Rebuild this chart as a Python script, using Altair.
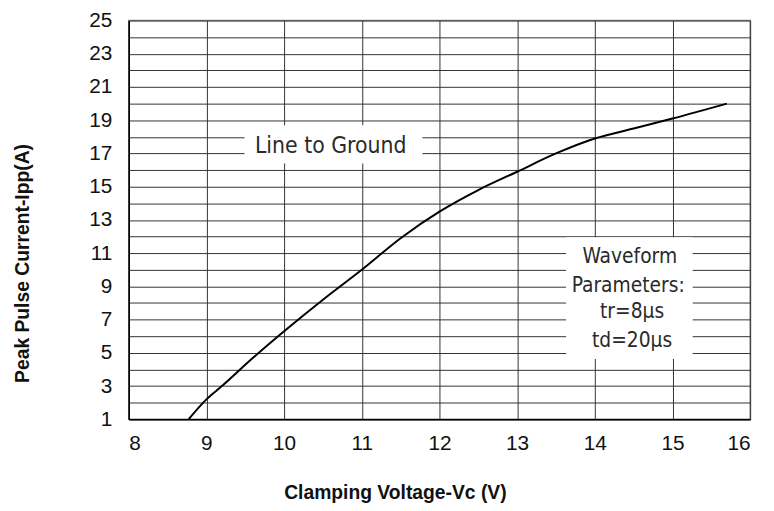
import altair as alt
import pandas as pd

# curve data
vc = [8.77, 9.0, 9.2, 9.6, 10.0, 10.5, 11.0, 11.5, 12.0, 12.5, 13.0, 13.5, 14.0, 14.5, 15.0, 15.7]
ipp = [1.0, 2.2, 3.0, 4.7, 6.3, 8.2, 10.0, 11.9, 13.5, 14.8, 15.9, 17.0, 17.9, 18.5, 19.1, 20.0]

x_ticks = [8, 9, 10, 11, 12, 13, 14, 15, 16]
y_ticks = list(range(1, 26))

# annotation boxes (data coordinates) and their texts
box_x1 = [9.49, 13.63]
box_x2 = [11.78, 15.26]
box_y1 = [16.4, 4.63]
box_y2 = [18.7, 11.95]

title_text = ["Line to Ground"]
title_x = [10.6]
title_y = [17.43]

wave_text = ["Waveform", "Parameters:", "tr=8\u00b5s", "td=20\u00b5s"]
wave_x = [14.45, 14.43, 14.48, 14.48]
wave_y = [10.78, 9.0, 7.43, 5.72]

curve = pd.DataFrame({"vc": vc, "ipp": ipp})
boxes = pd.DataFrame({"vc": box_x1, "x2": box_x2, "ipp": box_y1, "y2": box_y2})
ann1 = pd.DataFrame({"t": title_text, "vc": title_x, "ipp": title_y})
ann2 = pd.DataFrame({"t": wave_text, "vc": wave_x, "ipp": wave_y})

xs = alt.Scale(domain=[8, 16], nice=False, zero=False)
ys = alt.Scale(domain=[1, 25], nice=False, zero=False)

x_axis = alt.Axis(
    values=x_ticks, format="d", grid=True, ticks=False, domain=True, domainColor="#000000",
    labelFont="Liberation Sans", labelFontSize=21, labelColor="#111111", labelPadding=14,
    title="Clamping Voltage-Vc (V)", titleFont="Liberation Sans", titleFontSize=19.5,
    titleFontWeight="bold", titleColor="#111111", titleX=269, titleY=74,
    titleAlign="center", titleBaseline="middle", titleAnchor="start",
)
y_axis = alt.Axis(
    values=y_ticks, format="d", grid=True, ticks=False, domain=True, domainColor="#000000",
    labelExpr="datum.value % 2 == 1 ? datum.label : ''",
    labelFont="Liberation Sans", labelFontSize=21, labelColor="#111111", labelPadding=17,
    title="Peak Pulse Current-Ipp(A)", titleFont="Liberation Sans", titleFontSize=19.5,
    titleFontWeight="bold", titleColor="#111111", titleX=-107, titleY=245,
    titleAngle=-90, titleAlign="center", titleBaseline="middle", titleAnchor="start",
)

X = alt.X("vc:Q", scale=xs, axis=x_axis)
Y = alt.Y("ipp:Q", scale=ys, axis=y_axis)

line = alt.Chart(curve).mark_line(color="#000000", strokeWidth=2, interpolate="monotone").encode(
    x=X, y=Y,
)

rects = alt.Chart(boxes).mark_rect(fill="#ffffff").encode(
    x=X, x2="x2:Q", y=Y, y2="y2:Q",
)

text1 = alt.Chart(ann1).mark_text(
    font="DejaVu Sans Condensed", fontSize=23,
    color="#2a2a2a", align="center", baseline="middle",
).encode(x=X, y=Y, text="t:N")

text2 = alt.Chart(ann2).mark_text(
    font="DejaVu Sans Condensed", fontSize=21,
    color="#2a2a2a", align="center", baseline="middle",
).encode(x=X, y=Y, text="t:N")

chart = alt.layer(line, rects, text1, text2).properties(
    width=628, height=403,
    autosize=alt.AutoSizeParams(type="none"),
    padding={"left": 122, "top": 10, "right": 16, "bottom": 90},
    background="#ffffff",
).configure_axis(
    gridColor="#333333", gridWidth=1, gridOpacity=1, domainWidth=1.5,
    labelFont="Liberation Sans", labelFontSize=21, labelColor="#111111",
).configure_axisX(
    labelFontSize=21,
).configure_axisY(
    labelFontSize=21,
).configure_view(
    stroke="#888888", strokeWidth=1.5,
)

chart.save("out.html", embed_options={"renderer": "svg", "actions": False})
